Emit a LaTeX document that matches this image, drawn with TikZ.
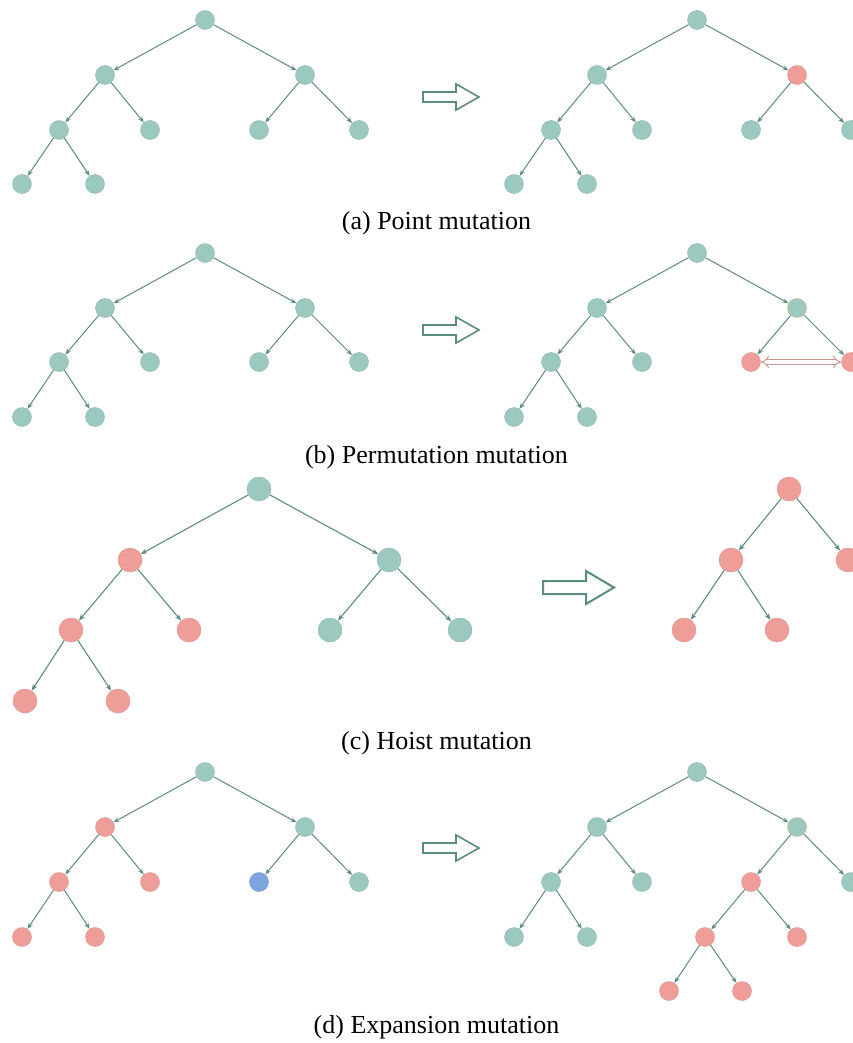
\documentclass[tikz,border=0pt]{standalone}
\usepackage{fontspec}
\setmainfont{Liberation Serif}
\usetikzlibrary{arrows.meta}
\definecolor{tealnode}{HTML}{9BC8BF}
\definecolor{rednode}{HTML}{EF9D98}
\definecolor{bluenode}{HTML}{7FA5DF}
\definecolor{edgecol}{HTML}{5B8C7F}
\definecolor{swapcol}{HTML}{C99590}
\definecolor{tanring}{HTML}{C9B98A}
\tikzset{
  vtx/.style={circle, inner sep=0pt, minimum size=#1, line width=0.5pt},
  vtx/.default=19,
  tn/.style={vtx=#1, fill=tealnode, draw=tealnode!85!gray},
  tn/.default=19,
  rn/.style={vtx=#1, fill=rednode, draw=rednode!85!gray},
  rn/.default=19,
  bn/.style={vtx=#1, fill=bluenode, draw=bluenode!85!gray},
  bn/.default=19,
  marked/.style={draw=tanring},
  edge/.style={draw=edgecol, line width=1pt, -{Stealth[length=6pt,width=4.5pt]}},
  bigedge/.style={draw=edgecol, line width=1.1pt, -{Stealth[length=6.5pt,width=5pt]}},
  blockarrow/.style={draw=edgecol, fill=white, line width=1.6pt, line join=miter},
  caption/.style={font=\fontsize{26}{30}\selectfont, inner sep=0pt}
}
\begin{document}
\begin{tikzpicture}[x=1pt,y=-1pt]
\useasboundingbox (0,0) rectangle (853,1043);
\clip (0,0) rectangle (853,1043);

% ---------- (a) point mutation ----------
\node[tn] (aL0) at (205,20) {};
\node[tn] (aL1) at (105,75) {};
\node[tn] (aL2) at (305,75) {};
\node[tn] (aL3) at (59,130) {};
\node[tn] (aL4) at (150,130) {};
\node[tn] (aL5) at (259,130) {};
\node[tn] (aL6) at (359,130) {};
\node[tn] (aL7) at (22,184) {};
\node[tn] (aL8) at (95,184) {};
\foreach \p/\c in {0/1,0/2,1/3,1/4,2/5,2/6,3/7,3/8}
  \draw[edge] (aL\p) -- (aL\c);

\node[tn] (aR0) at (697,20) {};
\node[tn] (aR1) at (597,75) {};
\node[rn] (aR2) at (797,75) {};
\node[tn] (aR3) at (551,130) {};
\node[tn] (aR4) at (642,130) {};
\node[tn] (aR5) at (751,130) {};
\node[tn] (aR6) at (851,130) {};
\node[tn] (aR7) at (514,184) {};
\node[tn] (aR8) at (587,184) {};
\foreach \p/\c in {0/1,0/2,1/3,1/4,2/5,2/6,3/7,3/8}
  \draw[edge] (aR\p) -- (aR\c);

\draw[blockarrow] (423,92) -- (456,92) -- (456,84) -- (479,97) -- (456,110) -- (456,102) -- (423,102) -- cycle;
\node[caption] (capa) at (436.5,223) {(a) Point mutation};

% ---------- (b) permutation mutation ----------
\node[tn] (bL0) at (205,253) {};
\node[tn] (bL1) at (105,308) {};
\node[tn] (bL2) at (305,308) {};
\node[tn] (bL3) at (59,362) {};
\node[tn] (bL4) at (150,362) {};
\node[tn] (bL5) at (259,362) {};
\node[tn] (bL6) at (359,362) {};
\node[tn] (bL7) at (22,417) {};
\node[tn] (bL8) at (95,417) {};
\foreach \p/\c in {0/1,0/2,1/3,1/4,2/5,2/6,3/7,3/8}
  \draw[edge] (bL\p) -- (bL\c);

\node[tn] (bR0) at (697,253) {};
\node[tn] (bR1) at (597,308) {};
\node[tn, marked] (bR2) at (797,308) {};
\node[tn] (bR3) at (551,362) {};
\node[tn] (bR4) at (642,362) {};
\node[rn] (bR5) at (751,362) {};
\node[rn] (bR6) at (851,362) {};
\node[tn] (bR7) at (514,417) {};
\node[tn] (bR8) at (587,417) {};
\foreach \p/\c in {0/1,0/2,1/3,1/4,2/5,2/6,3/7,3/8}
  \draw[edge] (bR\p) -- (bR\c);
% swap marker between the two exchanged subtrees
\draw[draw=swapcol, double=white, double distance=3.4pt, line width=0.9pt,
      {Implies[length=6pt]}-{Implies[length=6pt]}] (bR5) -- (bR6);

\draw[blockarrow] (423,325) -- (456,325) -- (456,317) -- (479,330) -- (456,343) -- (456,335) -- (423,335) -- cycle;
\node[caption] (capb) at (436.5,457) {(b) Permutation mutation};

% ---------- (c) hoist mutation ----------
\node[tn=24] (cL0) at (259,489) {};
\node[rn=24] (cL1) at (130,560) {};
\node[tn=24] (cL2) at (389,560) {};
\node[rn=24] (cL3) at (71,630) {};
\node[rn=24] (cL4) at (189,630) {};
\node[tn=24] (cL5) at (330,630) {};
\node[tn=24] (cL6) at (460,630) {};
\node[rn=24] (cL7) at (25,701) {};
\node[rn=24] (cL8) at (118,701) {};
\foreach \p/\c in {0/1,0/2,1/3,1/4,2/5,2/6,3/7,3/8}
  \draw[bigedge] (cL\p) -- (cL\c);

\node[rn=24] (cR0) at (789,489) {};
\node[rn=24] (cR1) at (731,560) {};
\node[rn=24] (cR2) at (848,560) {};
\node[rn=24] (cR3) at (684,630) {};
\node[rn=24] (cR4) at (777,630) {};
\foreach \p/\c in {0/1,0/2,1/3,1/4}
  \draw[bigedge] (cR\p) -- (cR\c);

\draw[blockarrow, line width=2pt] (543,581) -- (586,581) -- (586,571) -- (614,587.5) -- (586,604) -- (586,594) -- (543,594) -- cycle;
\node[caption] (capc) at (436.5,743) {(c) Hoist mutation};

% ---------- (d) expansion mutation ----------
\node[tn] (dL0) at (205,772) {};
\node[rn] (dL1) at (105,827) {};
\node[tn] (dL2) at (305,827) {};
\node[rn] (dL3) at (59,882) {};
\node[rn] (dL4) at (150,882) {};
\node[bn] (dL5) at (259,882) {};
\node[tn] (dL6) at (359,882) {};
\node[rn] (dL7) at (22,937) {};
\node[rn] (dL8) at (95,937) {};
\foreach \p/\c in {0/1,0/2,1/3,1/4,2/5,2/6,3/7,3/8}
  \draw[edge] (dL\p) -- (dL\c);

\node[tn] (dR0) at (697,772) {};
\node[tn] (dR1) at (597,827) {};
\node[tn, marked] (dR2) at (797,827) {};
\node[tn] (dR3) at (551,882) {};
\node[tn] (dR4) at (642,882) {};
\node[rn] (dR5) at (751,882) {};
\node[tn] (dR6) at (851,882) {};
\node[tn] (dR7) at (514,937) {};
\node[tn] (dR8) at (587,937) {};
\node[rn] (dR9) at (705,937) {};
\node[rn] (dR10) at (797,937) {};
\node[rn] (dR11) at (669,991) {};
\node[rn] (dR12) at (742,991) {};
\foreach \p/\c in {0/1,0/2,1/3,1/4,2/5,2/6,3/7,3/8,5/9,5/10,9/11,9/12}
  \draw[edge] (dR\p) -- (dR\c);

\draw[blockarrow] (423,843) -- (456,843) -- (456,835) -- (479,848) -- (456,861) -- (456,853) -- (423,853) -- cycle;
\node[caption] (capd) at (436.5,1027) {(d) Expansion mutation};
\end{tikzpicture}
\end{document}
